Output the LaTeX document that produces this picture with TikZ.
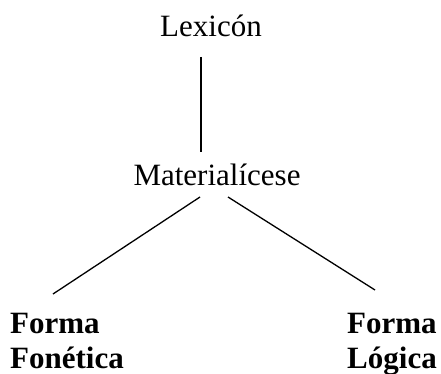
\documentclass[tikz,border=0pt]{standalone}
\usepackage{fontspec}
\setmainfont{Liberation Serif}
\usetikzlibrary{calc}
\tikzset{
  term/.style={inner sep=0pt, font=\fontsize{31}{35}\selectfont},
  leaf/.style={inner sep=0pt, align=left, font=\bfseries\fontsize{31}{35}\selectfont},
  edge/.style={line width=1.3pt}
}
\begin{document}
\begin{tikzpicture}[x=1pt, y=-1pt]
  \useasboundingbox (0,0) rectangle (441,374);
  \node[term, anchor=base] (lex) at (211,37) {Lexicón};
  \node[term, anchor=base] (mat) at (217,185) {Materialícese};
  % base anchor of a two-line node sits on the last line
  \node[leaf, anchor=base west] (pf) at (10,368) {Forma\\Fonética};
  \node[leaf, anchor=base west] (lf) at (347,368) {Forma\\Lógica};
  \draw[edge] ($(lex.base)+(-10,20)$) -- ($(mat.base)+(-16,-33)$);
  \draw[edge] ($(mat.base)+(-17,12)$) -- ($(pf.base west)+(43,-74)$);
  \draw[edge] ($(mat.base)+(11,12)$) -- ($(lf.base west)+(28,-78)$);
\end{tikzpicture}
\end{document}
